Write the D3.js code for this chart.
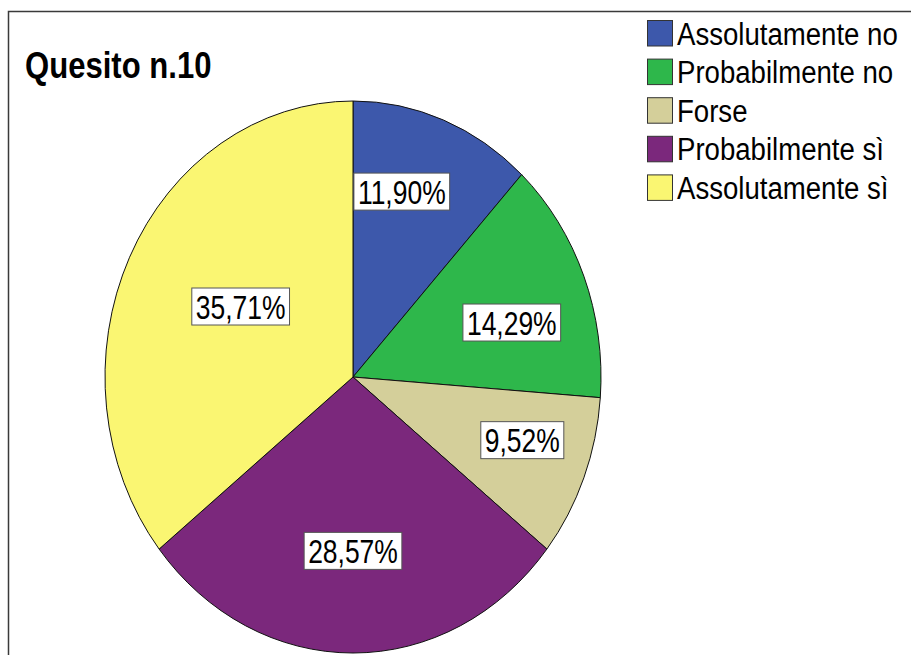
<!DOCTYPE html>
<html>
<head>
<meta charset="utf-8">
<script src="https://cdn.jsdelivr.net/npm/d3@7"></script>
<style>
  html, body { margin: 0; padding: 0; background: #fff; }
  svg { display: block; font-family: "Liberation Sans", Arial, sans-serif; }
</style>
</head>
<body>
<svg id="chart" width="911" height="655"></svg>
<script>
// ---- data ----
const categories = ["Assolutamente no", "Probabilmente no", "Forse", "Probabilmente sì", "Assolutamente sì"];
const percentages = [11.90, 14.29, 9.52, 28.57, 35.71];
const labels = ["11,90%", "14,29%", "9,52%", "28,57%", "35,71%"];
const colors = ["#3D58AB", "#2EB74B", "#D4CF9A", "#7B287C", "#FAF672"];
const title = "Quesito n.10";

// ---- layout ----
const W = 911, H = 655;
const cx = 353, cy = 377, rx = 248, ry = 276;
const labelRadius = [0.70, 0.67, 0.72, 0.63, 0.52];
const labelAngleShift = [-5.1, 4.3, -2.9, 0, 3.7];

const svg = d3.select("#chart");

// frame
svg.append("path")
  .attr("d", `M8.5,${H} L8.5,11.5 L${W},11.5`)
  .attr("fill", "none").attr("stroke", "#3a3a3a").attr("stroke-width", 1.5);

// title
svg.append("text")
  .attr("transform", "translate(25,78) scale(0.84,1)")
  .attr("font-size", 37).attr("font-weight", "bold").attr("fill", "#000")
  .text(title);

// pie
const pie = d3.pie().sort(null).value(d => d)(percentages);
const arc = d3.arc().innerRadius(0).outerRadius(rx);
const g = svg.append("g").attr("transform", `translate(${cx},${cy}) scale(1,${ry / rx})`);
g.selectAll("path.slice").data(pie).join("path")
  .attr("class", "slice")
  .attr("d", arc)
  .attr("fill", (d, i) => colors[i])
  .attr("stroke", "#111")
  .attr("stroke-width", 1)
  .attr("vector-effect", "non-scaling-stroke");

// labels
const lg = svg.append("g");
const lsx = 0.79;
pie.forEach((d, i) => {
  const a = (d.startAngle + d.endAngle) / 2 + labelAngleShift[i] * Math.PI / 180;
  const x = cx + rx * labelRadius[i] * Math.sin(a);
  const y = cy - ry * labelRadius[i] * Math.cos(a);
  const grp = lg.append("g").attr("transform", `translate(${x},${y})`);
  const rect = grp.append("rect");
  const t = grp.append("text")
    .attr("transform", `translate(0,12) scale(${lsx},1)`)
    .attr("text-anchor", "middle")
    .attr("font-size", 33.5).attr("fill", "#000")
    .text(labels[i]);
  const w = t.node().getComputedTextLength() * lsx + 8;
  rect.attr("x", -w / 2).attr("y", -18.5).attr("width", w).attr("height", 37)
    .attr("fill", "#fff").attr("stroke", "#555").attr("stroke-width", 1);
});

// legend
const leg = svg.append("g").attr("transform", "translate(647,20)");
const rowH = 38.6;
categories.forEach((c, i) => {
  const row = leg.append("g").attr("transform", `translate(0,${i * rowH})`);
  row.append("rect").attr("x", 0.5).attr("y", 0.5).attr("width", 25).attr("height", 25.5)
    .attr("fill", colors[i]).attr("stroke", "#333").attr("stroke-width", 1);
  row.append("text")
    .attr("transform", "translate(30,24.5) scale(0.89,1)")
    .attr("font-size", 31).attr("fill", "#000")
    .text(c);
});
</script>
</body>
</html>
